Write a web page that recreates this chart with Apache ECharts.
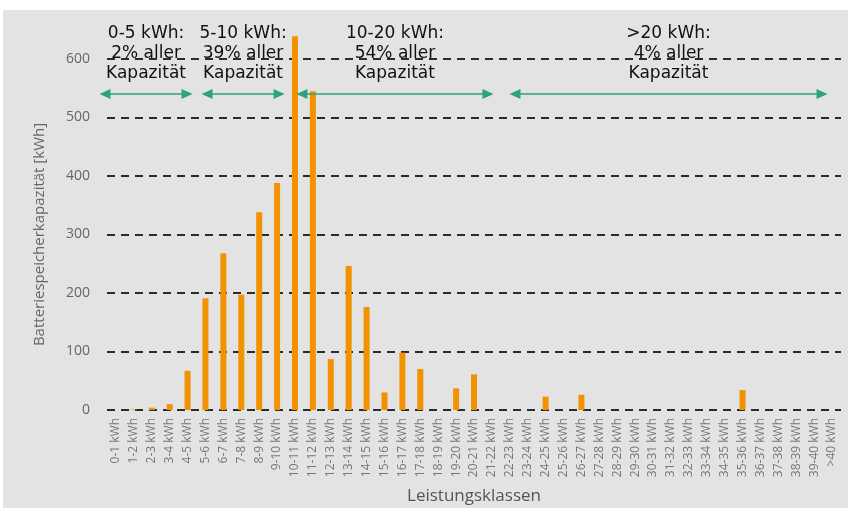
<!DOCTYPE html>
<html>
<head>
<meta charset="utf-8">
<script src="https://cdn.jsdelivr.net/npm/echarts@6/dist/echarts.min.js"></script>
<style>
  html, body { margin: 0; padding: 0; background: #fff; }
  #chart { width: 848px; height: 508px; }
</style>
</head>
<body>
<div id="chart"></div>
<script>
// Storage capacity classes (kWh)
const classes = [
  '0-1 kWh', '1-2 kWh', '2-3 kWh', '3-4 kWh', '4-5 kWh', '5-6 kWh', '6-7 kWh', '7-8 kWh',
  '8-9 kWh', '9-10 kWh', '10-11 kWh', '11-12 kWh', '12-13 kWh', '13-14 kWh', '14-15 kWh',
  '15-16 kWh', '16-17 kWh', '17-18 kWh', '18-19 kWh', '19-20 kWh', '20-21 kWh', '21-22 kWh',
  '22-23 kWh', '23-24 kWh', '24-25 kWh', '25-26 kWh', '26-27 kWh', '27-28 kWh', '28-29 kWh',
  '29-30 kWh', '30-31 kWh', '31-32 kWh', '32-33 kWh', '33-34 kWh', '34-35 kWh', '35-36 kWh',
  '36-37 kWh', '37-38 kWh', '38-39 kWh', '39-40 kWh', '>40 kWh'
];

// Installed battery storage capacity per class [kWh]
const capacity = [
  0, 1, 4, 10, 67, 191, 268, 197, 338, 388, 639, 545, 87, 246, 176, 30, 98, 70, 0, 37, 61,
  0, 0, 0, 23, 0, 26, 0, 0, 0, 0, 0, 0, 0, 0, 34, 0, 0, 0, 0, 0
];

// Y axis ticks
const yTicks = [0, 100, 200, 300, 400, 500, 600];

// Summary ranges: start / end in class units, and their captions
const spanStart = [-0.11, 5.59, 10.89, 22.79];
const spanEnd = [4.47, 9.61, 21.28, 39.94];
const spanText = [
  '0-5 kWh:\n2% aller\nKapazität',
  '5-10 kWh:\n39% aller\nKapazität',
  '10-20 kWh:\n54% aller\nKapazität',
  '>20 kWh:\n4% aller\nKapazität'
];
const spanLevel = 540;

const chart = echarts.init(document.getElementById('chart'), null, { renderer: 'canvas' });

const labelFont = '"Open Sans", "DejaVu Sans", sans-serif';

// The plot area; the annotation layer uses a copy widened by one class to the left
const plotLeft = 107, plotRight = 7, plotTop = 59, plotBottom = 98;
const classWidth = (848 - plotLeft - plotRight) / classes.length;

chart.setOption({
  backgroundColor: '#ffffff',
  animation: false,
  graphic: [{
    type: 'rect',
    silent: true,
    z: -10,
    shape: { x: 3, y: 10, width: 845, height: 498 },
    style: { fill: '#e2e3e2' }
  }],
  grid: [
    { left: plotLeft, right: plotRight, top: plotTop, bottom: plotBottom, containLabel: false, outerBoundsMode: 'none' },
    { left: plotLeft - classWidth, right: plotRight, top: plotTop, bottom: plotBottom, containLabel: false, outerBoundsMode: 'none' }
  ],
  xAxis: [{
    type: 'category',
    gridIndex: 0,
    data: classes,
    name: 'Leistungsklassen',
    nameLocation: 'middle',
    nameGap: 78,
    nameTextStyle: { fontFamily: labelFont, fontSize: 17, color: '#555' },
    axisLine: { show: false },
    axisTick: { show: false },
    axisLabel: {
      interval: 0,
      rotate: 90,
      margin: 8,
      fontFamily: labelFont,
      fontSize: 12,
      color: '#777'
    }
  }, {
    type: 'value',
    gridIndex: 1,
    show: false,
    min: -1,
    max: classes.length
  }],
  yAxis: [{
    type: 'value',
    gridIndex: 0,
    min: yTicks[0],
    max: yTicks[yTicks.length - 1],
    interval: yTicks[1] - yTicks[0],
    name: 'Batteriespeicherkapazität [kWh]',
    nameLocation: 'middle',
    nameGap: 60,
    nameTextStyle: { fontFamily: labelFont, fontSize: 15, color: '#666' },
    axisLine: { show: false },
    axisTick: { show: false },
    axisLabel: { margin: 17, fontFamily: labelFont, fontSize: 14, color: '#666' },
    splitLine: {
      show: true,
      lineStyle: { color: '#2b2b2b', width: 2, type: [8, 6] }
    }
  }, {
    type: 'value',
    gridIndex: 1,
    show: false,
    min: yTicks[0],
    max: yTicks[yTicks.length - 1]
  }],
  series: [{
    type: 'bar',
    xAxisIndex: 0,
    yAxisIndex: 0,
    data: capacity,
    barWidth: 6,
    clip: false,
    itemStyle: { color: '#f39200' },
    z: 3
  }, {
    type: 'line',
    xAxisIndex: 1,
    yAxisIndex: 1,
    data: [],
    z: 4,
    markLine: {
      silent: true,
      symbol: ['triangle', 'triangle'],
      symbolSize: [10, 11],
      lineStyle: { color: '#2ba383', width: 1.5, type: 'solid' },
      label: {
        show: true,
        position: 'insideMiddleTop',
        distance: 11,
        align: 'center',
        fontFamily: '"DejaVu Sans", sans-serif',
        fontSize: 17,
        lineHeight: 20,
        color: '#111'
      },
      data: spanStart.map((s, i) => [
        { coord: [s, spanLevel], label: { formatter: spanText[i] } },
        { coord: [spanEnd[i], spanLevel] }
      ])
    }
  }]
});
</script>
</body>
</html>
